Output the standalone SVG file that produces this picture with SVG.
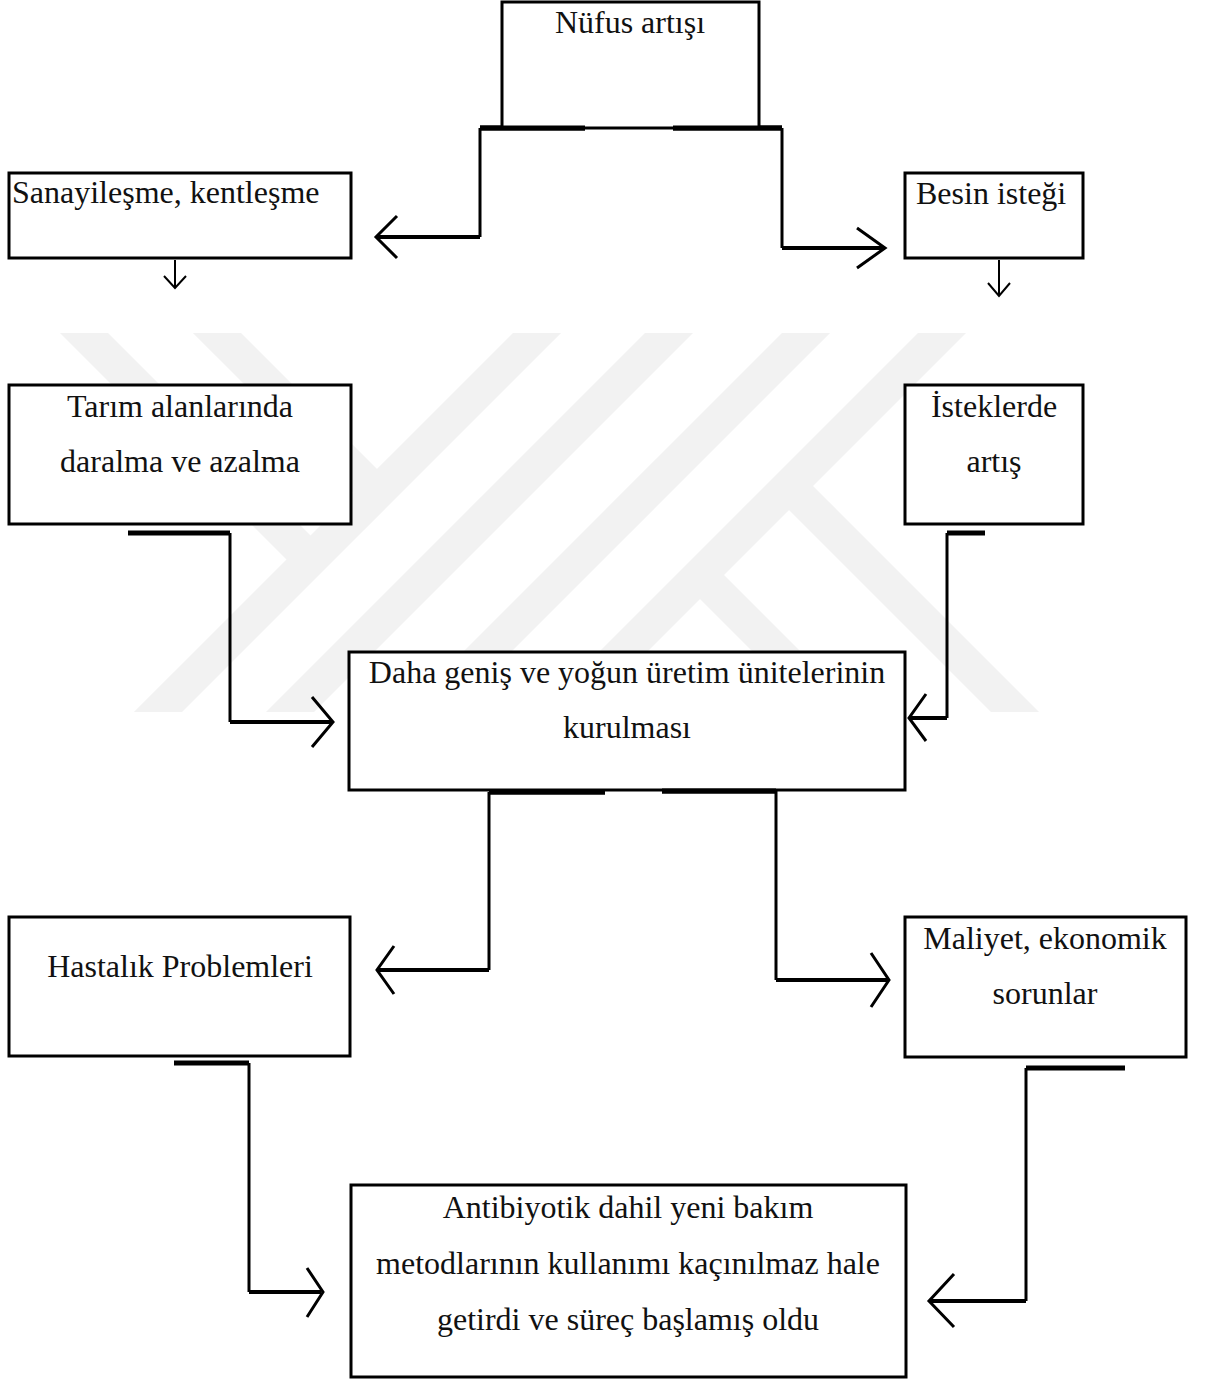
<svg xmlns="http://www.w3.org/2000/svg" width="1216" height="1380" viewBox="0 0 1216 1380">
  <defs>
    <clipPath id="wmclip"><rect x="0" y="333" width="1216" height="379"/></clipPath>
    <style>
      .box { fill: #ffffff; stroke: #000000; stroke-width: 3; }
      .lbl { font-family: "Liberation Serif", "Times New Roman", serif; font-size: 32px; fill: #111111; }
      .mid { text-anchor: middle; }
      .thick { stroke: #000; stroke-width: 5; fill: none; }
      .vert { stroke: #000; stroke-width: 3; fill: none; }
      .horz { stroke: #000; stroke-width: 4; fill: none; }
      .head { stroke: #000; stroke-width: 3; fill: none; stroke-linejoin: miter; }
      .small { stroke: #000; stroke-width: 2; fill: none; }
      .wm { stroke: #f2f2f2; stroke-width: 34; fill: none; }
    </style>
  </defs>
  <rect x="0" y="0" width="1216" height="1380" fill="#ffffff"/>

  <g id="watermark" clip-path="url(#wmclip)">
    <line class="wm" x1="64" y1="313" x2="310" y2="559"/>
    <line class="wm" x1="197" y1="313" x2="375" y2="491"/>
    <line class="wm" x1="557" y1="313" x2="138" y2="732"/>
    <line class="wm" x1="689" y1="313" x2="270" y2="732"/>
    <line class="wm" x1="826" y1="313" x2="407" y2="732"/>
    <line class="wm" x1="962" y1="313" x2="543" y2="732"/>
    <line class="wm" x1="790" y1="487" x2="1035" y2="732"/>
    <line class="wm" x1="700" y1="575" x2="857" y2="732"/>
  </g>

  <g id="connectors">
    <!-- Nüfus -> Sanayileşme -->
    <line class="thick" x1="480" y1="128" x2="585" y2="128"/>
    <polyline class="vert" points="480,128 480,237"/>
    <line class="horz" x1="480" y1="237" x2="377" y2="237"/>
    <polyline class="head" points="397,216 376,237 397,258"/>
    <!-- Nüfus -> Besin -->
    <line class="thick" x1="673" y1="128" x2="782" y2="128"/>
    <polyline class="vert" points="782,128 782,248"/>
    <line class="horz" x1="782" y1="248" x2="884" y2="248"/>
    <polyline class="head" points="857,228 885,248 857,268"/>
    <!-- small down arrows -->
    <line class="small" x1="175" y1="260" x2="175" y2="288"/>
    <polyline class="small" points="164,276 175,288 186,276"/>
    <line class="small" x1="999" y1="260" x2="999" y2="296"/>
    <polyline class="small" points="988,283 999,296 1010,283"/>
    <!-- Tarım -> Daha -->
    <line class="thick" x1="128" y1="533" x2="230" y2="533"/>
    <polyline class="vert" points="230,533 230,722"/>
    <line class="horz" x1="230" y1="722" x2="331" y2="722"/>
    <polyline class="head" points="312,697 333,722 312,747"/>
    <!-- İsteklerde -> Daha -->
    <line class="thick" x1="947" y1="533" x2="985" y2="533"/>
    <polyline class="vert" points="947,533 947,718"/>
    <line class="horz" x1="947" y1="718" x2="910" y2="718"/>
    <polyline class="head" points="926,694 909,718 926,741"/>
    <!-- Daha -> Hastalık -->
    <line class="thick" x1="489" y1="792" x2="605" y2="792"/>
    <polyline class="vert" points="489,792 489,970"/>
    <line class="horz" x1="489" y1="970" x2="378" y2="970"/>
    <polyline class="head" points="394,946 377,970 394,994"/>
    <!-- Daha -> Maliyet -->
    <line class="thick" x1="662" y1="791" x2="776" y2="791"/>
    <polyline class="vert" points="776,791 776,980"/>
    <line class="horz" x1="776" y1="980" x2="888" y2="980"/>
    <polyline class="head" points="871,953 889,980 871,1007"/>
    <!-- Hastalık -> Antibiyotik -->
    <line class="thick" x1="174" y1="1063" x2="249" y2="1063"/>
    <polyline class="vert" points="249,1063 249,1292"/>
    <line class="horz" x1="249" y1="1292" x2="321" y2="1292"/>
    <polyline class="head" points="307,1268 323,1292 307,1317"/>
    <!-- Maliyet -> Antibiyotik -->
    <line class="thick" x1="1026" y1="1068" x2="1125" y2="1068"/>
    <polyline class="vert" points="1026,1068 1026,1301"/>
    <line class="horz" x1="1026" y1="1301" x2="930" y2="1301"/>
    <polyline class="head" points="954,1274 929,1301 954,1327"/>
  </g>

  <g id="n-nufus">
    <rect class="box" x="502" y="2" width="257" height="126"/>
    <text class="lbl mid" x="630" y="33">Nüfus artışı</text>
  </g>
  <g id="n-sanayi">
    <rect class="box" x="9" y="173" width="342" height="85"/>
    <text class="lbl" x="12" y="203">Sanayileşme, kentleşme</text>
  </g>
  <g id="n-besin">
    <rect class="box" x="905" y="173" width="178" height="85"/>
    <text class="lbl" x="916" y="204">Besin isteği</text>
  </g>
  <g id="n-tarim">
    <rect class="box" x="9" y="385" width="342" height="139"/>
    <text class="lbl mid" x="180" y="417">Tarım alanlarında</text>
    <text class="lbl mid" x="180" y="472">daralma ve azalma</text>
  </g>
  <g id="n-istek">
    <rect class="box" x="905" y="385" width="178" height="139"/>
    <text class="lbl mid" x="994" y="417">İsteklerde</text>
    <text class="lbl mid" x="994" y="472">artış</text>
  </g>
  <g id="n-daha">
    <rect class="box" x="349" y="652" width="556" height="138"/>
    <text class="lbl mid" x="627" y="683">Daha geniş ve yoğun üretim ünitelerinin</text>
    <text class="lbl mid" x="627" y="738">kurulması</text>
  </g>
  <g id="n-hastalik">
    <rect class="box" x="9" y="917" width="341" height="139"/>
    <text class="lbl mid" x="180" y="977">Hastalık Problemleri</text>
  </g>
  <g id="n-maliyet">
    <rect class="box" x="905" y="917" width="281" height="140"/>
    <text class="lbl mid" x="1045" y="949">Maliyet, ekonomik</text>
    <text class="lbl mid" x="1045" y="1004">sorunlar</text>
  </g>
  <g id="n-antibiyotik">
    <rect class="box" x="351" y="1185" width="555" height="192"/>
    <text class="lbl mid" x="628" y="1218">Antibiyotik dahil yeni bakım</text>
    <text class="lbl mid" x="628" y="1274">metodlarının kullanımı kaçınılmaz hale</text>
    <text class="lbl mid" x="628" y="1330">getirdi ve süreç başlamış oldu</text>
  </g>

  <g id="connector-overlays">
    <line class="thick" x1="480" y1="128" x2="585" y2="128"/>
    <line class="thick" x1="673" y1="128" x2="782" y2="128"/>
    <line class="thick" x1="489" y1="792" x2="605" y2="792"/>
    <line class="thick" x1="662" y1="791" x2="776" y2="791"/>
  </g>
</svg>
